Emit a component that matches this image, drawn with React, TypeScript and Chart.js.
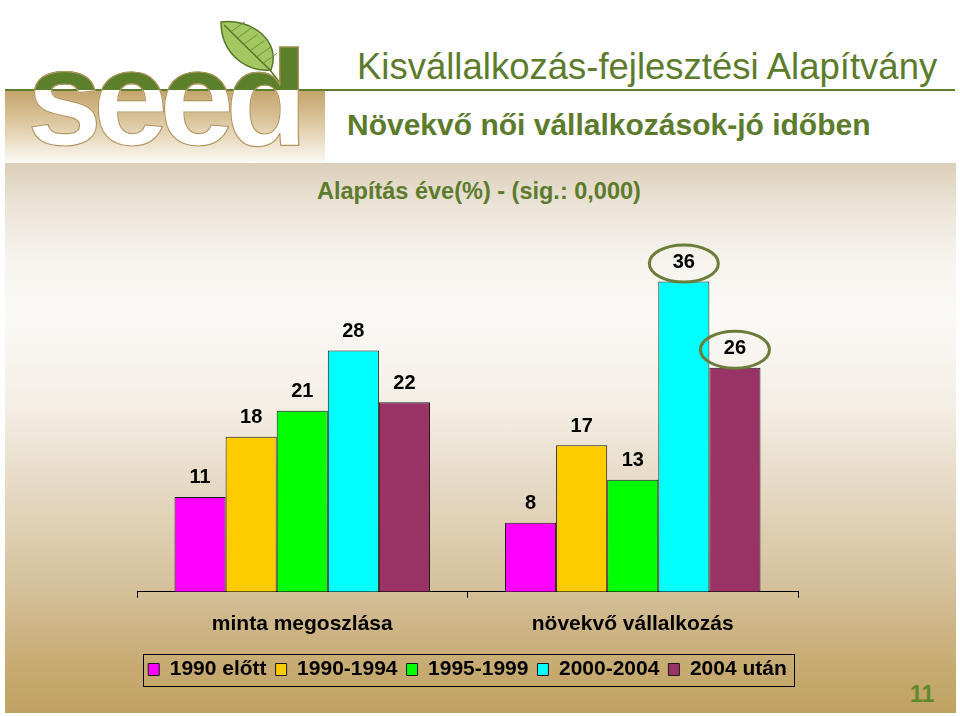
import React, { useEffect, useRef } from "react";
import { Chart, registerables } from "chart.js";

Chart.register(...registerables);

const categories = ["minta megoszlása", "növekvő vállalkozás"];
const seriesLabels = ["1990 előtt", "1990-1994", "1995-1999", "2000-2004", "2004 után"];
const before1990 = [11, 8];
const from1990to1994 = [18, 17];
const from1995to1999 = [21, 13];
const from2000to2004 = [28, 36];
const after2004 = [22, 26];
const seriesColors = ["#ff00ff", "#ffcc00", "#00ff00", "#00ffff", "#993366"];
const highlighted = [
  { dataset: 3, index: 1 },
  { dataset: 4, index: 1 },
];

const FONT = "'Liberation Sans', Arial, Helvetica, sans-serif";
const OLIVE = "#5c7b2c";

const valueLabelPlugin = {
  id: "valueLabels",
  afterDatasetsDraw(chart: any) {
    const ctx = chart.ctx;
    ctx.save();
    ctx.font = `bold 20px ${FONT}`;
    ctx.fillStyle = "#000";
    ctx.textAlign = "center";
    ctx.textBaseline = "middle";
    chart.data.datasets.forEach((ds: any, di: number) => {
      const meta = chart.getDatasetMeta(di);
      meta.data.forEach((bar: any, i: number) => {
        ctx.fillText(String(ds.data[i]), bar.x, bar.y - 19);
      });
    });
    ctx.strokeStyle = "#6b7d3a";
    ctx.lineWidth = 3;
    highlighted.forEach((h) => {
      const bar: any = chart.getDatasetMeta(h.dataset).data[h.index];
      ctx.beginPath();
      ctx.ellipse(bar.x, bar.y - 18, 34.5, 18.5, 0, 0, Math.PI * 2);
      ctx.stroke();
    });
    ctx.restore();
  },
};

const legendBoxPlugin = {
  id: "legendBox",
  afterDraw(chart: any) {
    const lg = chart.legend;
    if (!lg || !lg.legendHitBoxes || !lg.legendHitBoxes.length) return;
    const boxes = lg.legendHitBoxes;
    let minX = Infinity, maxX = -Infinity, minY = Infinity, maxY = -Infinity;
    boxes.forEach((b: any) => {
      minX = Math.min(minX, b.left);
      maxX = Math.max(maxX, b.left + b.width);
      minY = Math.min(minY, b.top);
      maxY = Math.max(maxY, b.top + b.height);
    });
    const ctx = chart.ctx;
    ctx.save();
    ctx.strokeStyle = "#000";
    ctx.lineWidth = 1;
    const cy = (minY + maxY) / 2;
    ctx.strokeRect(Math.round(minX - 5) + 0.5, Math.round(cy - 16) + 0.5, Math.round(maxX - minX + 12), 32);
    ctx.restore();
  },
};

const hiddenSideAxis = (position: string) => ({
  display: true,
  position,
  min: 0,
  max: 40,
  afterFit: (scale: any) => {
    scale.width = 37;
  },
  grid: { display: false, drawTicks: false },
  border: { display: false },
  ticks: { display: false },
});

function BarChart() {
  const ref = useRef<HTMLCanvasElement | null>(null);
  useEffect(() => {
    if (!ref.current) return;
    const values = [before1990, from1990to1994, from1995to1999, from2000to2004, after2004];
    const chart = new Chart(ref.current, {
      type: "bar",
      data: {
        labels: categories,
        datasets: seriesLabels.map((label, i) => ({
          label,
          data: values[i],
          backgroundColor: seriesColors[i],
          borderColor: "#1a1a1a",
          borderWidth: 1,
          barPercentage: 1,
          categoryPercentage: 0.773,
          yAxisID: "y",
        })),
      },
      options: {
        animation: false,
        responsive: false,
        maintainAspectRatio: false,
        layout: { padding: { left: 0, right: 0, top: 17, bottom: 6 } },
        plugins: {
          legend: {
            display: true,
            position: "bottom",
            labels: {
              boxWidth: 11,
              boxHeight: 12,
              color: "#000",
              padding: 9,
              font: { family: FONT, size: 21, weight: "bold" },
            },
          },
          tooltip: { enabled: false },
          title: { display: false },
        },
        scales: {
          x: {
            afterFit: (scale: any) => {
              scale.height -= 1;
            },
            grid: {
              display: true,
              drawOnChartArea: false,
              drawTicks: true,
              tickLength: 6,
              color: "#000",
              offset: true,
            },
            border: { display: true, color: "#000", width: 1 },
            ticks: {
              color: "#000",
              padding: 14,
              font: { family: FONT, size: 21, weight: "bold" },
            },
          },
          y: hiddenSideAxis("left"),
          yRight: hiddenSideAxis("right"),
        },
      },
      plugins: [valueLabelPlugin, legendBoxPlugin],
    } as any);
    return () => chart.destroy();
  }, []);
  return (
    <canvas
      ref={ref}
      width={735}
      height={466}
      style={{ position: "absolute", left: 100, top: 230, width: 735, height: 466 }}
    />
  );
}

export default function App() {
  const seedTop = 30.7;
  return (
    <div
      style={{
        position: "absolute",
        left: 0,
        top: 0,
        width: 960,
        height: 716,
        background: "#ffffff",
        overflow: "hidden",
        fontFamily: FONT,
      }}
    >
      {/* logo background */}
      <div
        style={{
          position: "absolute",
          left: 5,
          top: 90,
          width: 320,
          height: 72,
          background: "linear-gradient(to bottom, #c3a369 0%, #dcc7a0 45%, #f3ebdc 85%, #fbf8f2 100%)",
        }}
      />
      {/* green rule */}
      <div style={{ position: "absolute", left: 5, top: 89, width: 950, height: 2, background: "#5f7f30" }} />
      {/* leaf */}
      <svg style={{ position: "absolute", left: 0, top: 0 }} width={320} height={100}>
        <path
          d="M 221 22 C 250 18, 282 40, 271 70 C 244 72, 221 52, 221 22 Z"
          fill="#a3c862"
          stroke="#56752a"
          strokeWidth={1.5}
        />
        <path d="M 224 25 L 270 70 L 284 88" fill="none" stroke="#56752a" strokeWidth={1.5} />
        {[0, 1, 2, 3, 4, 5].map((k) => {
          const t = 0.15 + k * 0.14;
          const x = 224 + 46 * t;
          const y = 25 + 45 * t;
          return <path key={k} d={`M ${x} ${y} L ${x + 14} ${y - 10}`} stroke="#6f9236" strokeWidth={1} fill="none" />;
        })}
      </svg>
      {/* seed word */}
      <div
        style={{
          position: "absolute",
          left: 27,
          top: seedTop,
          fontSize: 135,
          lineHeight: 1,
          height: 135,
          fontWeight: "bold",
          letterSpacing: -9,
          background: `linear-gradient(to bottom, #5b7f2b 0px, #5b7f2b ${90 - seedTop}px, #ffffff ${90 - seedTop}px, #ffffff 100%)`,
          WebkitBackgroundClip: "text",
          backgroundClip: "text",
          color: "transparent",
          WebkitTextStroke: "1.2px #b3955e",
          fontFamily: FONT,
          whiteSpace: "nowrap",
        }}
      >
        seed
      </div>
      <div
        style={{
          position: "absolute",
          left: 357,
          top: 49.2,
          fontSize: 36.5,
          lineHeight: 1,
          color: OLIVE,
          whiteSpace: "nowrap",
        }}
      >
        Kisvállalkozás-fejlesztési Alapítvány
      </div>
      <div
        style={{
          position: "absolute",
          left: 347,
          top: 109.6,
          fontSize: 30,
          lineHeight: 1,
          fontWeight: "bold",
          color: OLIVE,
          whiteSpace: "nowrap",
        }}
      >
        Növekvő női vállalkozások-jó időben
      </div>
      {/* panel */}
      <div
        style={{
          position: "absolute",
          left: 5,
          top: 163,
          width: 951,
          height: 550,
          background:
            "linear-gradient(to bottom, #dccfb9 0%, #ebe4d8 8%, #f7f4ef 18%, #fbf9f6 28%, #f3ede3 45%, #e3d5bd 62%, #d4bf99 78%, #c6aa70 92%, #c0a263 100%)",
        }}
      />
      <div
        style={{
          position: "absolute",
          left: 317,
          top: 180,
          fontSize: 23.5,
          lineHeight: 1,
          fontWeight: "bold",
          color: OLIVE,
          whiteSpace: "nowrap",
        }}
      >
        Alapítás éve(%) - (sig.: 0,000)
      </div>
      <BarChart />
      <div
        style={{
          position: "absolute",
          left: 910,
          top: 683,
          fontSize: 23,
          lineHeight: 1,
          fontWeight: "bold",
          color: "#5f8a2c",
          whiteSpace: "nowrap",
        }}
      >
        11
      </div>
    </div>
  );
}
